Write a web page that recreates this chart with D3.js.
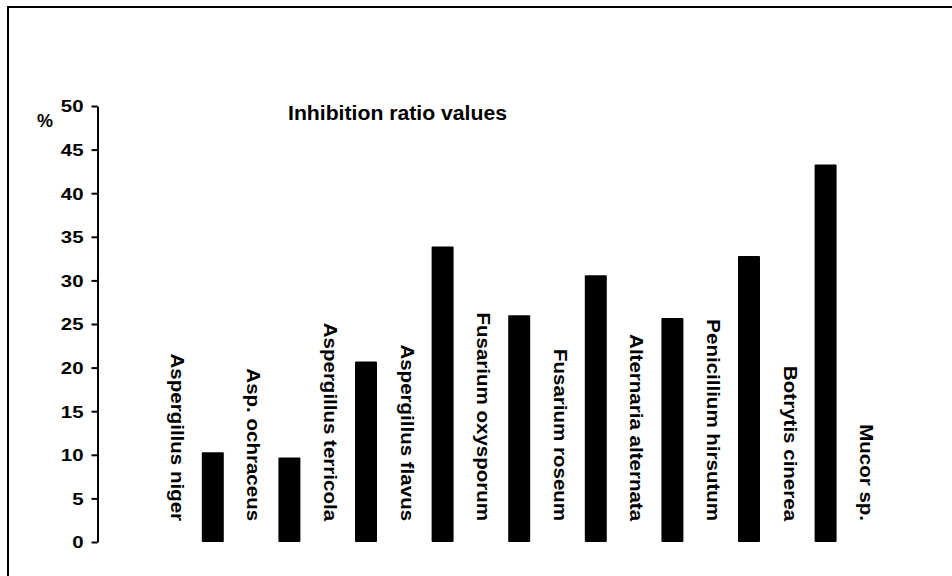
<!DOCTYPE html>
<html>
<head>
<meta charset="utf-8">
<script src="https://cdn.jsdelivr.net/npm/d3@7/dist/d3.min.js"></script>
<style>
  html, body { margin: 0; padding: 0; background: #fff; }
  svg { display: block; }
  text { font-family: "Liberation Sans", Arial, sans-serif; font-weight: bold; fill: #000; }
</style>
</head>
<body>
<script>
// ---- data ----
const categories = ["Aspergillus niger", "Asp. ochraceus", "Aspergillus terricola", "Aspergillus flavus",
  "Fusarium oxysporum", "Fusarium roseum", "Alternaria alternata", "Penicillium hirsutum",
  "Botrytis cinerea", "Mucor sp."];
const values = [10.3, 9.7, 20.7, 33.9, 26.0, 30.6, 25.7, 32.8, 43.3, 0];
const yTicks = [0, 5, 10, 15, 20, 25, 30, 35, 40, 45, 50];
const chartTitle = "Inhibition ratio values";
const yUnit = "%";

// ---- layout ----
const W = 952, H = 576;
const axisX = 97.5;
const plotRight = 940.5;
const firstSlotLeft = 174.5;
const yTop = 106, yBottom = 542;

const svg = d3.select("body").append("svg").attr("width", W).attr("height", H);

// frame (left and top edges visible)
svg.append("path")
  .attr("d", `M8,${H + 2} V7 H${W + 2}`)
  .attr("fill", "none").attr("stroke", "#000").attr("stroke-width", 2);

const x = d3.scaleBand().domain(categories).range([firstSlotLeft, plotRight]).paddingInner(0.713).paddingOuter(0.3565);
const slot = d3.scaleBand().domain(categories).range([firstSlotLeft, plotRight]);
const y = d3.scaleLinear().domain([0, 50]).range([yBottom, yTop]);

// bars
svg.append("g").selectAll("rect").data(values).join("rect")
  .attr("x", (d, i) => x(categories[i]))
  .attr("width", x.bandwidth())
  .attr("y", d => y(d))
  .attr("height", d => y(0) - y(d))
  .attr("rx", 1)
  .attr("fill", "#000");

// y axis
const yAxis = d3.axisLeft(y).tickValues(yTicks).tickSize(6).tickSizeOuter(0).tickPadding(0);
const gy = svg.append("g").attr("transform", `translate(${axisX},0)`).call(yAxis);
gy.select(".domain").attr("stroke", "#000").attr("stroke-width", 2);
gy.selectAll(".tick line").attr("stroke", "#000").attr("stroke-width", 2);
gy.selectAll(".tick text")
  .attr("x", null).attr("dy", null)
  .attr("dominant-baseline", "central")
  .attr("transform", "translate(-14,0) scale(1.2,1)")
  .style("font-size", "17px").style("font-family", "'Liberation Sans', Arial, sans-serif").style("font-weight", "bold");

// unit label
svg.append("text").attr("x", 45).attr("y", 121).attr("text-anchor", "middle")
  .attr("dominant-baseline", "central").style("font-size", "18px").text(yUnit);

// title
svg.append("text").attr("x", 288).attr("y", 119.5)
  .attr("textLength", 219).attr("lengthAdjust", "spacingAndGlyphs")
  .style("font-size", "20px").text(chartTitle);

// category labels (rotated, reading top-to-bottom, left of each bar)
svg.append("g").selectAll("text").data(categories).join("text")
  .attr("transform", d => `translate(${slot(d) + 3},${y(2.4)}) rotate(90) scale(1.08,1)`)
  .attr("text-anchor", "end")
  .attr("dominant-baseline", "central")
  .style("font-size", "19px")
  .text(d => d);
</script>
</body>
</html>
